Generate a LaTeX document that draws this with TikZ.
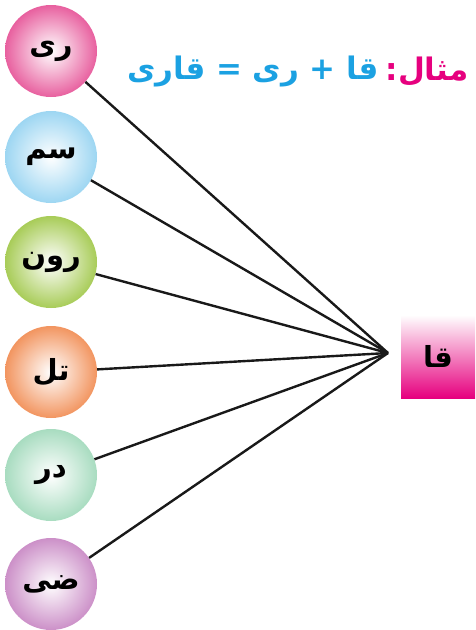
\documentclass[tikz,border=0pt]{standalone}
\usepackage{fontspec}
\newfontfamily\urdu[Script=Arabic]{DejaVu Sans}
\TeXXeTstate=1
\definecolor{ripink}{HTML}{E8609F}
\definecolor{samblue}{HTML}{9DD6F2}
\definecolor{rungreen}{HTML}{A8CC58}
\definecolor{tilorange}{HTML}{F29560}
\definecolor{darmint}{HTML}{A8DCC0}
\definecolor{zipurple}{HTML}{CC90C8}
\definecolor{qamagenta}{HTML}{E6007E}
\definecolor{titlecyan}{HTML}{1BA1E2}

\begin{document}
\begin{tikzpicture}[
        x=1pt, y=-1pt,
        every node/.style={font=\fontsize{29}{33}\selectfont\urdu\bfseries},
        ball/.style={circle, minimum size=92pt, inner sep=0pt,
            shading=radial, inner color=white, outer color=#1},
        link/.style={line width=2.4pt, draw=black!90}
    ]

        \useasboundingbox (0,0) rectangle (475,630);

        % Vertice
        \coordinate (hub) at (388,353);

        \node[ball=ripink]    (ri)  at (51,51)  {\beginR ری\endR};
        \node[ball=samblue]   (sam) at (51,157) {\beginR سم\endR};
        \node[ball=rungreen]  (run) at (51,262) {\beginR رون\endR};
        \node[ball=tilorange] (til) at (51,372) {\beginR تل\endR};
        \node[ball=darmint]   (dar) at (51,475) {\beginR در\endR};
        \node[ball=zipurple]  (zi)  at (51,584) {\beginR ضی\endR};

        \node[minimum width=74pt, minimum height=83pt, inner sep=0pt,
            shading=axis, top color=white, bottom color=qamagenta]
            (qa) at (438,356.5) {\beginR قا\endR};

        \foreach \w in {ri, sam, run, til, dar, zi}
            \draw[link] (\w) -- (hub);

        % Misaal
        \node[anchor=east, text=qamagenta, font=\fontsize{31}{35}\selectfont\urdu\bfseries]
            (misaal) at (472,72) {\beginR مثال:\endR};
        \node[anchor=east, text=titlecyan, font=\fontsize{31}{35}\selectfont\urdu\bfseries]
            (qari) at (misaal.west) {\beginR قا + ری = قاری\endR};

    \end{tikzpicture}
\end{document}
